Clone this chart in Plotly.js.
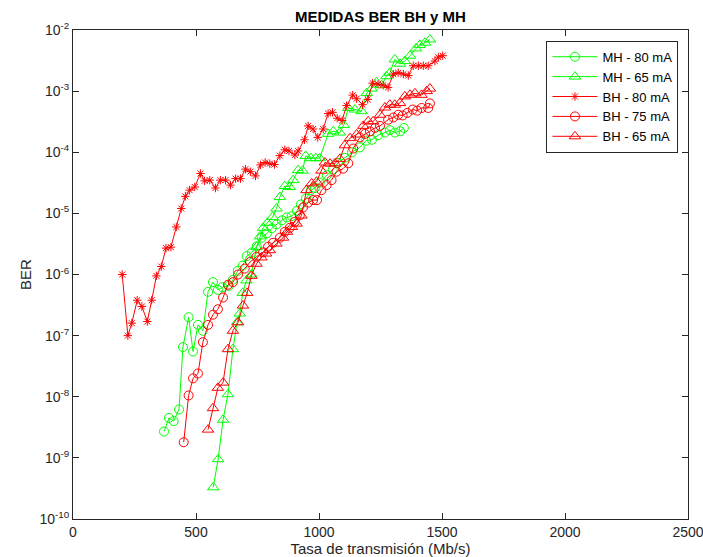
<!DOCTYPE html>
<html>
<head>
<meta charset="utf-8">
<script src="https://cdn.plot.ly/plotly-3.0.1.min.js"></script>
<style>html,body{margin:0;padding:0;background:#fff;}#chart{width:703px;height:557px;}</style>
</head>
<body>
<div id="chart"></div>
<script>
// MH - 80 mA
const mh80_x = [370,390,409,431,447,470,488,508,528,549,569,589,607,633,650,670,690,706,727,747,767,788,808,828,849,869,889,910,926,947,967,983,1003,1032,1056,1077,1105,1134,1166,1191,1215,1240,1268,1288,1309,1330,1345];
const mh80_y = [2.7e-9,4.5e-9,4.0e-9,6.2e-9,6.5e-8,2.0e-7,5.5e-8,1.5e-7,1.2e-7,5.2e-7,7.5e-7,5.6e-7,6.2e-7,6.5e-7,8.2e-7,1.15e-6,1.4e-6,2.0e-6,2.3e-6,2.9e-6,4.0e-6,4.7e-6,5.7e-6,6.6e-6,7.7e-6,8.6e-6,9.0e-6,1.1e-5,1.4e-5,1.75e-5,2.4e-5,2.6e-5,3.2e-5,4.2e-5,5.2e-5,6.7e-5,8.1e-5,1.0e-4,1.2e-4,1.55e-4,1.6e-4,1.9e-4,2.1e-4,2.3e-4,2.1e-4,2.2e-4,2.5e-4];

// MH - 65 mA
const mh65_x = [570,590,610,630,650,667,678,690,705,725,746,760,773,790,811,827,841,861,881,895,915,933,946,967,987,1003,1037,1058,1085,1101,1119,1146,1173,1194,1214,1234,1255,1274,1288,1308,1329,1349,1370,1394,1410,1431,1451];
const mh65_y = [3.3e-10,9.5e-10,4.2e-9,1.1e-8,6e-8,1.65e-7,2.3e-7,5e-7,8e-7,1.0e-6,2.8e-6,4.2e-6,5.8e-6,7e-6,8.7e-6,1.2e-5,1.85e-5,2.8e-5,2.7e-5,3.5e-5,5.1e-5,5.0e-5,8.7e-5,8.0e-5,8.0e-5,8.0e-5,2.0e-4,2.2e-4,2.1e-4,2.8e-4,5.3e-4,5.0e-4,4.7e-4,9.3e-4,1.1e-3,1.4e-3,1.25e-3,1.75e-3,2.0e-3,3.3e-3,2.8e-3,3.1e-3,3.8e-3,5.0e-3,5.7e-3,6.2e-3,7.0e-3];

// BH - 80 mA
const bh80_x = [200,223,239,261,280,302,320,339,359,378,398,420,440,457,474,495,518,535,556,579,599,620,640,661,681,701,721,742,762,781,800,819,841,861,878,902,915,941,956,976,995,1017,1037,1055,1074,1094,1112,1137,1153,1177,1198,1218,1240,1261,1281,1302,1322,1343,1363,1383,1404,1424,1444,1471,1485,1503];
const bh80_y = [1.0e-6,1.0e-7,1.6e-7,3.8e-7,3.0e-7,1.7e-7,3.8e-7,9.5e-7,1.35e-6,2.7e-6,2.8e-6,6e-6,1.2e-5,1.9e-5,2.4e-5,2.7e-5,4.5e-5,3.4e-5,3.5e-5,2.6e-5,3.5e-5,3.5e-5,2.9e-5,3.7e-5,3.7e-5,5.3e-5,4.8e-5,4.1e-5,6.2e-5,6.8e-5,6.5e-5,6.3e-5,8.8e-5,1.1e-4,1.05e-4,9e-5,1.05e-4,1.6e-4,2.7e-4,2.4e-4,1.75e-4,2.4e-4,4.3e-4,4.5e-4,3.6e-4,3.3e-4,5.8e-4,8.6e-4,7.5e-4,6e-4,7.3e-4,1.35e-3,1.3e-3,1.25e-3,1.15e-3,1.9e-3,2.0e-3,1.9e-3,1.8e-3,2.6e-3,2.6e-3,2.6e-3,2.6e-3,3.1e-3,3.6e-3,3.8e-3];

// BH - 75 mA
const bh75_x = [450,470,488,508,528,549,569,589,610,630,650,671,698,720,746,773,793,813,841,861,881,902,922,935,956,976,992,1010,1031,1051,1071,1098,1119,1139,1166,1187,1207,1228,1248,1281,1302,1322,1340,1359,1381,1399,1417,1444,1451];
const bh75_y = [1.8e-9,1.05e-8,2.0e-8,2.4e-8,7.8e-8,1.5e-7,2.2e-7,2.7e-7,4.2e-7,6.8e-7,7.5e-7,1.0e-6,1.25e-6,1.6e-6,1.95e-6,2.3e-6,2.85e-6,3.3e-6,4.0e-6,5.0e-6,5.8e-6,7.3e-6,9.3e-6,1.25e-5,1.5e-5,1.65e-5,1.65e-5,2.4e-5,2.9e-5,3.5e-5,4.8e-5,5.4e-5,6.6e-5,1.15e-4,1.75e-4,2.0e-4,2.2e-4,2.5e-4,2.7e-4,3.4e-4,3.7e-4,4.1e-4,4.0e-4,4.4e-4,5.0e-4,4.8e-4,5.3e-4,5.3e-4,6.3e-4];

// BH - 65 mA
const bh65_x = [549,569,589,610,630,650,671,691,708,725,746,766,785,800,827,854,870,890,909,929,949,970,990,1010,1024,1045,1065,1085,1105,1126,1153,1180,1200,1220,1248,1268,1288,1308,1329,1349,1370,1390,1417,1438,1451];
const bh65_y = [2.9e-9,6.5e-9,1.4e-8,1.7e-8,6e-8,1.2e-7,1.65e-7,3.1e-7,5e-7,9.5e-7,1.5e-6,1.9e-6,2.2e-6,2.5e-6,3.2e-6,4.0e-6,5.0e-6,6.0e-6,6.8e-6,9.2e-6,2.4e-5,3.1e-5,3.3e-5,5.0e-5,6.8e-5,6.5e-5,6.6e-5,7.8e-5,1.3e-4,1.7e-4,1.95e-4,2.7e-4,3.2e-4,3.2e-4,4.1e-4,5.4e-4,6.0e-4,6.0e-4,6.4e-4,8.2e-4,8.7e-4,9.2e-4,8.7e-4,1.0e-3,1.1e-3];

const seriesNames = ['MH - 80 mA','MH - 65 mA','BH - 80 mA','BH - 75 mA','BH - 65 mA'];
const xTickVals = [0,500,1000,1500,2000,2500];
const yDecades = [-10,-9,-8,-7,-6,-5,-4,-3,-2];

// axis furniture: tick positions
const yMajorVals = yDecades.map(e => Math.pow(10, e));
const yMajorText = yDecades.map(e => '10<sup>' + e + '</sup>');
const yMinorLog = [];
yDecades.slice(0, -1).forEach(e => { for (let m = 2; m <= 9; m++) yMinorLog.push(e + Math.log10(m)); });

const GREEN = '#00ff00', RED = '#ff0000', AX = '#262626';
const PLOT_W = 703 - 73 - 15;
const minorFrac = 3 / PLOT_W;
const minorShapes = [];
yMinorLog.forEach(v => {
  minorShapes.push({type: 'line', xref: 'paper', yref: 'y', x0: 0, x1: minorFrac, y0: v, y1: v, line: {color: AX, width: 1}});
  minorShapes.push({type: 'line', xref: 'paper', yref: 'y', x0: 1 - minorFrac, x1: 1, y0: v, y1: v, line: {color: AX, width: 1}});
});

function tr(x, y, name, color, symbol, size) {
  return {
    type: 'scatter', mode: 'lines+markers', x: x, y: y, name: name,
    line: {color: color, width: 1},
    marker: {symbol: symbol, size: size, color: color, line: {color: color, width: 1}}
  };
}
const data = [
  tr(mh80_x, mh80_y, seriesNames[0], GREEN, 'circle-open', 9),
  tr(mh65_x, mh65_y, seriesNames[1], GREEN, 'triangle-up-open', 10),
  tr(bh80_x, bh80_y, seriesNames[2], RED, 'asterisk-open', 7),
  tr(bh75_x, bh75_y, seriesNames[3], RED, 'circle-open', 9),
  tr(bh65_x, bh65_y, seriesNames[4], RED, 'triangle-up-open', 10)
];

const FONT = 'Liberation Sans, Arial, Helvetica, sans-serif';
const layout = {
  width: 703, height: 557,
  margin: {l: 73, r: 15, t: 30, b: 38},
  paper_bgcolor: '#ffffff', plot_bgcolor: '#ffffff',
  font: {family: FONT, size: 13, color: AX},
  showlegend: true,
  shapes: minorShapes,
  title: {text: '<b>MEDIDAS BER BH y MH</b>', x: 0.5, xref: 'paper', y: 1 - 17/557, yref: 'container', yanchor: 'middle', font: {family: FONT, size: 15, color: '#000'}},
  xaxis: {
    range: [0, 2500], tickmode: 'array', tickvals: xTickVals, ticktext: xTickVals.map(String),
    ticks: 'inside', ticklen: 6, tickcolor: AX, tickwidth: 1, ticklabeloverflow: 'allow',
    showline: true, linecolor: AX, linewidth: 1, mirror: 'ticks',
    showgrid: false, zeroline: false,
    tickfont: {family: FONT, size: 14, color: AX},
    title: {text: 'Tasa de transmisión (Mb/s)', standoff: 2, font: {family: FONT, size: 15, color: AX}}
  },
  yaxis: {
    type: 'log', range: [-10, -2], tickmode: 'array', tickvals: yMajorVals, ticktext: yMajorText,
    ticks: 'inside', ticklen: 6, tickcolor: AX, tickwidth: 1,
    showline: true, linecolor: AX, linewidth: 1, mirror: 'ticks',
    showgrid: false, zeroline: false,
    tickfont: {family: FONT, size: 14, color: AX},
    title: {text: 'BER', standoff: 4, font: {family: FONT, size: 15, color: AX}}
  },
  legend: {
    x: 0.9845, y: 0.978, xanchor: 'right', yanchor: 'top',
    bgcolor: '#ffffff', bordercolor: AX, borderwidth: 1,
    font: {family: FONT, size: 13, color: '#000'},
    itemwidth: 45,
    traceorder: 'normal', tracegroupgap: 0
  }
};
Plotly.newPlot('chart', data, layout, {displayModeBar: false, staticPlot: true});
</script>
</body>
</html>
